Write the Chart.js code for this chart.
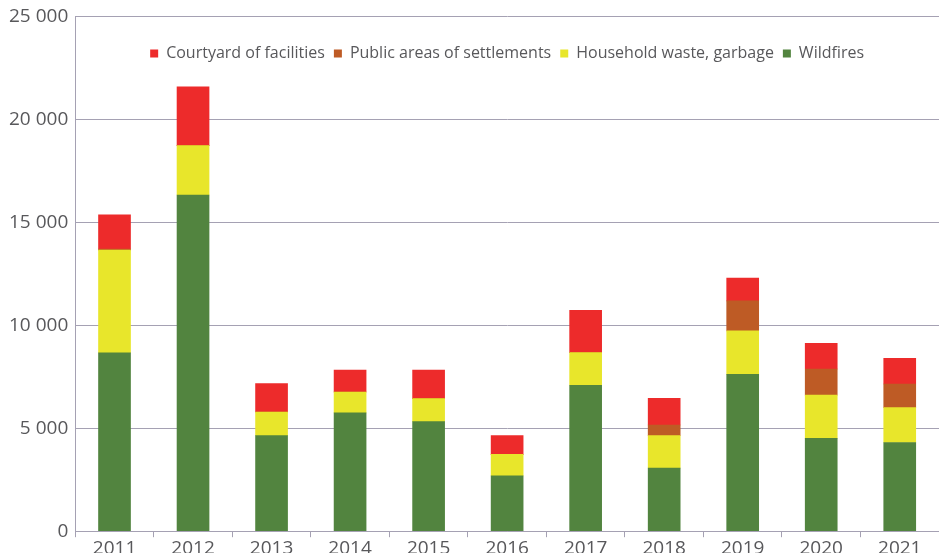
<!DOCTYPE html>
<html>
<head>
<meta charset="utf-8">
<script src="https://cdn.jsdelivr.net/npm/chart.js@4"></script>
<style>
  html, body { margin: 0; padding: 0; background: #fff; }
  #wrap { width: 939px; height: 553px; }
</style>
</head>
<body>
<div id="wrap"><canvas id="c"></canvas></div>
<script>
const years = ['2011','2012','2013','2014','2015','2016','2017','2018','2019','2020','2021'];
const wildfires = [8660, 16330, 4640, 5750, 5320, 2690, 7090, 3060, 7620, 4510, 4310];
const household = [4990, 2400, 1150, 1010, 1120, 1040, 1580, 1580, 2110, 2100, 1690];
const publicAreas = [50, 0, 0, 0, 0, 0, 0, 520, 1460, 1270, 1150];
const courtyard = [1670, 2850, 1380, 1070, 1390, 910, 2060, 1290, 1100, 1250, 1250];
const yTicks = [0, 5000, 10000, 15000, 20000, 25000];

const textColor = '#58585b';
const gridColor = '#a5a1b3';
const fontFamily = "'Open Sans', 'Noto Sans', sans-serif";

// Let the legend overlay the plot area instead of taking layout space,
// and move it down inside the plot.
const LEGEND_SHIFT = 20;
const legendOverlay = {
  id: 'legendOverlay',
  beforeInit(chart) {
    const lg = chart.legend;
    if (!lg) return;
    const origFit = lg.fit;
    lg.fit = function () {
      origFit.call(this);
      this._realHeight = this.height;
      this.height = 0;
    };
  },
  afterLayout(chart) {
    const lg = chart.legend;
    if (lg && lg._realHeight) {
      lg.top = lg.top + LEGEND_SHIFT;
      lg.height = lg._realHeight;
      lg.bottom = lg.top + lg.height;
    }
  }
};

new Chart(document.getElementById('c'), {
  type: 'bar',
  data: {
    labels: years,
    datasets: [
      { label: 'Wildfires', data: wildfires, backgroundColor: '#52843f' },
      { label: 'Household waste, garbage', data: household, backgroundColor: '#e8e62b' },
      { label: 'Public areas of settlements', data: publicAreas, backgroundColor: '#be5b25' },
      { label: 'Courtyard of facilities', data: courtyard, backgroundColor: '#ed2b2b' }
    ]
  },
  options: {
    responsive: true,
    maintainAspectRatio: false,
    animation: false,
    layout: { padding: { top: 8, right: 0, bottom: -7, left: 2 } },
    datasets: { bar: { barThickness: 32 } },
    plugins: {
      tooltip: { enabled: false },
      legend: {
        position: 'top',
        fullSize: false,
        reverse: true,
        labels: {
          boxWidth: 8,
          boxHeight: 8,
          padding: 9,
          color: textColor,
          font: { family: fontFamily, size: 16 }
        }
      }
    },
    scales: {
      x: {
        stacked: true,
        grid: { drawOnChartArea: false, drawTicks: true, tickLength: 6, offset: true, color: gridColor },
        border: { color: gridColor, width: 1 },
        ticks: { color: textColor, font: { family: fontFamily, size: 19 }, padding: 0 }
      },
      y: {
        stacked: true,
        min: 0,
        max: 25000,
        afterBuildTicks(axis) { axis.ticks = yTicks.map(v => ({ value: v })); },
        grid: { color: gridColor, drawTicks: false, lineWidth: 1 },
        border: { color: gridColor, width: 1 },
        ticks: {
          color: textColor,
          padding: 7,
          font: { family: fontFamily, size: 19, lineHeight: 1 },
          callback: v => String(v).replace(/\B(?=(\d{3})+(?!\d))/g, ' ')
        }
      }
    }
  },
  plugins: [legendOverlay]
});
</script>
</body>
</html>
